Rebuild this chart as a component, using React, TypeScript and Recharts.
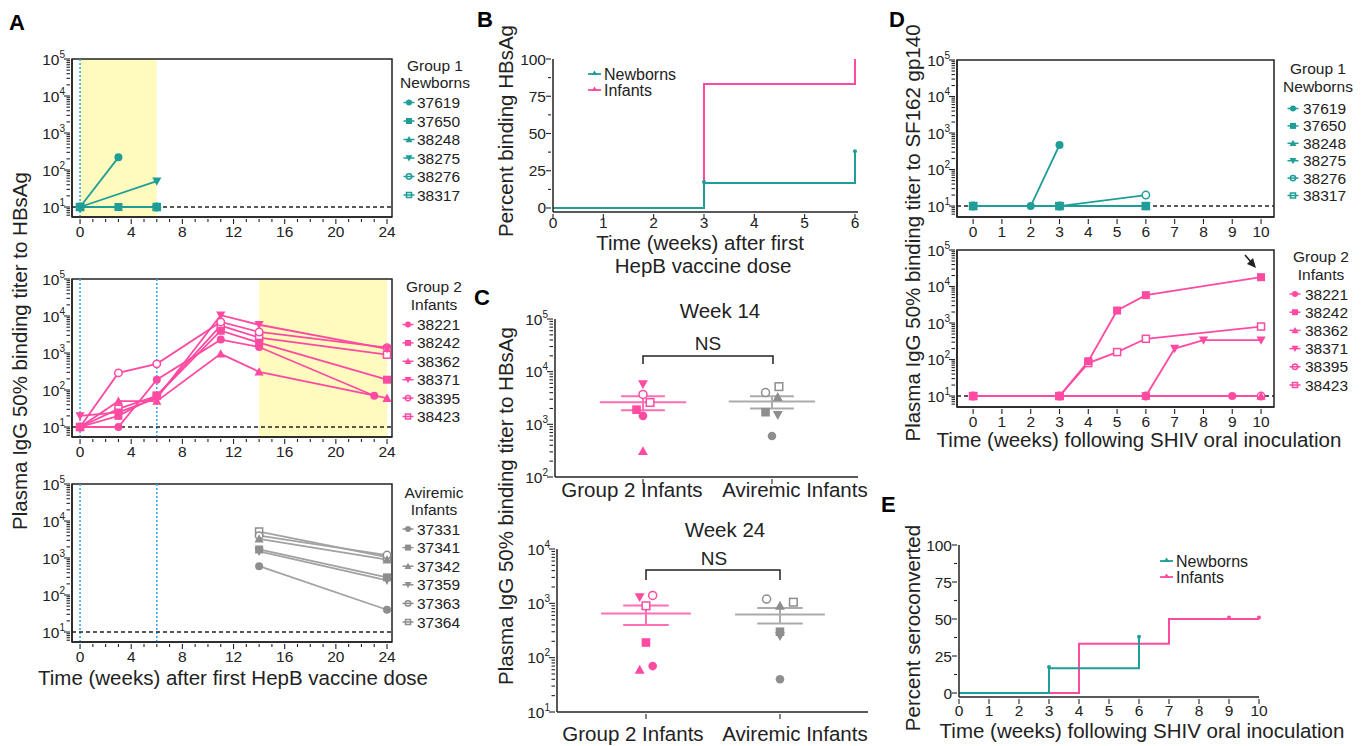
import React from 'react';
import {
  ComposedChart,
  Line,
  Scatter,
  XAxis,
  YAxis,
  ReferenceLine,
  ReferenceArea,
} from 'recharts';

const FONT = '"Liberation Sans", Arial, Helvetica, sans-serif';
const INK = '#222';
const TEAL = '#1F9E98';
const PINK = '#FF4AA2';
const GRAY = '#8E8E8E';
const GRAY_LINE = '#A2A2A2';
const BLUE = '#3BA7F5';
const YELLOW = '#FFFBBE';

// ---------- data ----------
const NEWBORN_IDS = ['37619', '37650', '38248', '38275', '38276', '38317'];
const INFANT_IDS = ['38221', '38242', '38362', '38371', '38395', '38423'];
const AVIREMIC_IDS = ['37331', '37341', '37342', '37359', '37363', '37364'];

// A: anti-HBsAg titer, weeks after first HepB dose
const HEPB_NB_WEEKS = [[0, 3], [0, 3, 6], [0, 6], [0, 6], [0, 6], [0, 6]];
const HEPB_NB_TITER = [[10, 220], [10, 10, 10], [10, 10], [10, 50], [10, 10], [10, 10]];

const HEPB_INF_WEEKS = [
  [0, 3, 6, 11, 14, 23],
  [0, 3, 6, 11, 14, 24],
  [0, 3, 6, 11, 14, 24],
  [0, 3, 6, 11, 14, 24],
  [0, 3, 6, 11, 14, 24],
  [0, 3, 6, 11, 14, 24],
];
const HEPB_INF_TITER = [
  [10, 10, 190, 2300, 1450, 70],
  [10, 20, 70, 4000, 1900, 190],
  [10, 50, 50, 950, 310, 60],
  [20, 25, 60, 10500, 5800, 1300],
  [10, 290, 510, 6900, 3700, 1400],
  [10, 31, 70, 5500, 2600, 900],
];

const HEPB_AV_WEEKS = [[14, 24], [14, 24], [14, 24], [14, 24], [14, 24], [14, 24]];
const HEPB_AV_TITER = [[600, 40], [1700, 300], [3300, 900], [1500, 250], [4000, 1200], [5200, 1050]];

// B: percent binding HBsAg
const B_NB_WEEKS = [0, 3, 6];
const B_NB_PCT = [0, 16.7, 38];
const B_INF_WEEKS = [0, 3, 6];
const B_INF_PCT = [0, 83.3, 100];
const B_NB_CENSOR_WEEKS = [3, 6];
const B_NB_CENSOR_PCT = [17.5, 38];

// C: titers at week 14 / week 24
const WK14_G2 = [1450, 1900, 310, 5800, 3700, 2600];
const WK14_AV = [600, 1700, 3300, 1500, 4000, 5200];
const WK24_G2 = [70, 190, 60, 1300, 1400, 900];
const WK24_AV = [40, 300, 900, 250, 1200, 1050];
const C_GROUPS = ['Group 2 Infants', 'Aviremic Infants'];

// D: anti-SF162 gp140 titer, weeks after SHIV inoculation
const SHIV_NB_WEEKS = [[0, 2, 3], [0, 3, 6], [0, 3, 6], [0, 3, 6], [0, 3, 6], [0, 3, 6]];
const SHIV_NB_TITER = [[10, 10, 470], [10, 10, 10], [10, 10, 10], [10, 10, 10], [10, 10, 20], [10, 10, 10]];
const SHIV_INF_WEEKS = [
  [0, 3, 6, 9],
  [0, 3, 4, 5, 6, 10],
  [0, 3, 6, 10],
  [0, 3, 6, 7, 8, 10],
  [0, 3, 6, 10],
  [0, 3, 4, 5, 6, 10],
];
const SHIV_INF_TITER = [
  [10, 10, 10, 10],
  [10, 10, 90, 2200, 5800, 18000],
  [10, 10, 10, 10],
  [10, 10, 10, 200, 340, 340],
  [10, 10, 10, 10],
  [10, 10, 80, 160, 370, 800],
];

// E: percent seroconverted
const E_NB_WEEKS = [0, 3, 6];
const E_NB_PCT = [0, 16.7, 38];
const E_INF_WEEKS = [0, 4, 7, 10];
const E_INF_PCT = [0, 33.3, 50, 50];
const E_NB_CENSOR_WEEKS = [3, 6];
const E_NB_CENSOR_PCT = [17.5, 38];
const E_INF_CENSOR_WEEKS = [9, 10];
const E_INF_CENSOR_PCT = [51, 51];

// ---------- styles ----------
const SHAPES = ['circle', 'square', 'triUp', 'triDown', 'openCircle', 'openSquare'];
const DRAW_ORDER = [5, 4, 3, 2, 0, 1];
const C14_JITTER = [[0, -0.05, 0, 0, 0, 0.055], [0, -0.05, 0.045, 0.045, -0.05, 0.054]];
const C24_JITTER = [[0.05, 0, -0.047, -0.047, 0.05, 0], [0, 0, 0, 0, -0.1, 0.1]];

const AX = { stroke: INK, strokeWidth: 1.5 };
const PL = 72;
const PR = 30;
const PT = 10;
const PB = 44;

type Box = [number, number, number, number];

const zip = (xs: number[], ys: number[]) => xs.map((x, i) => ({ x, y: ys[i] }));

const logTicks = (min: number, maxExp: number) => {
  const t: number[] = [];
  for (let e = 0; e < maxExp; e++)
    for (let m = 1; m < 10; m++) {
      const v = m * Math.pow(10, e);
      if (v >= min) t.push(v);
    }
  t.push(Math.pow(10, maxExp));
  return t;
};

const range = (a: number, b: number, step = 1) => {
  const r: number[] = [];
  for (let v = a; v <= b + 1e-9; v += step) r.push(v);
  return r;
};

function Marker({ cx, cy, shape, color, r = 4, legend = false }: any) {
  if (cx == null || cy == null || isNaN(cx) || isNaN(cy)) return null;
  const t = r * 1.15;
  switch (shape) {
    case 'circle':
      return <circle cx={cx} cy={cy} r={r} fill={color} />;
    case 'square':
      return <rect x={cx - r} y={cy - r} width={2 * r} height={2 * r} fill={color} />;
    case 'triUp':
      return <polygon points={`${cx},${cy - t} ${cx - t},${cy + t * 0.8} ${cx + t},${cy + t * 0.8}`} fill={color} />;
    case 'triDown':
      return <polygon points={`${cx},${cy + t} ${cx - t},${cy - t * 0.8} ${cx + t},${cy - t * 0.8}`} fill={color} />;
    case 'openCircle':
      return <circle cx={cx} cy={cy} r={r - 0.3} fill={legend ? 'none' : '#fff'} stroke={color} strokeWidth={1.5} />;
    default:
      return (
        <rect x={cx - r + 0.5} y={cy - r + 0.5} width={2 * r - 1} height={2 * r - 1}
          fill={legend ? 'none' : '#fff'} stroke={color} strokeWidth={1.5} />
      );
  }
}

const LogYTick = (props: any) => {
  const { x, y, payload } = props;
  const lg = Math.log10(payload.value);
  const e = Math.round(lg);
  const major = Math.abs(lg - e) < 1e-6;
  return (
    <g>
      <line x1={x - (major ? 6 : 3.5)} x2={x} y1={y} y2={y} stroke={INK} strokeWidth={1.1} />
      {major && (
        <text x={x - 5} y={y + 5.5} textAnchor="end" fontSize={15.5} fill={INK} fontFamily={FONT}>
          10<tspan dy={-7} fontSize={10}>{e}</tspan>
        </text>
      )}
    </g>
  );
};

const linYTick = (every: number) => (props: any) => {
  const { x, y, payload } = props;
  const v = payload.value;
  const major = Math.abs(v / every - Math.round(v / every)) < 1e-6;
  return (
    <g>
      <line x1={x - (major ? 5 : 3)} x2={x} y1={y} y2={y} stroke={INK} strokeWidth={1.1} />
      {major && (
        <text x={x - 5} y={y + 5.5} textAnchor="end" fontSize={15.5} fill={INK} fontFamily={FONT}>
          {v}
        </text>
      )}
    </g>
  );
};

const numXTick = (every: number, dy: number) => (props: any) => {
  const { x, y, payload } = props;
  const v = payload.value;
  const major = Math.abs(v / every - Math.round(v / every)) < 1e-6;
  return (
    <g>
      <line x1={x} x2={x} y1={y} y2={y + (major ? 5 : 3)} stroke={INK} strokeWidth={1.1} />
      {major && (
        <text x={x} y={y + dy} textAnchor="middle" fontSize={15.5} fill={INK} fontFamily={FONT}>
          {v}
        </text>
      )}
    </g>
  );
};

const catXTick = (dxs: number[], dy: number) => (props: any) => {
  const { x, y, payload } = props;
  const i = payload.value < 1.5 ? 0 : 1;
  return (
    <g>
      <line x1={x} x2={x} y1={y} y2={y + 5} stroke={INK} strokeWidth={1.1} />
      <text x={x + dxs[i]} y={y + dy} textAnchor="middle" fontSize={20.5} fill={INK} fontFamily={FONT}>
        {C_GROUPS[i]}
      </text>
    </g>
  );
};

function Frame({ box, children }: { box: Box; children: React.ReactNode }) {
  const [x0, y0, x1, y1] = box;
  return (
    <div style={{ position: 'absolute', left: x0 - PL, top: y0 - PT }}>
      <ComposedChart
        width={x1 - x0 + PL + PR}
        height={y1 - y0 + PT + PB}
        margin={{ top: PT, right: PR, left: 0, bottom: 0 }}
      >
        {children}
      </ComposedChart>
    </div>
  );
}

function TiterPanel({ box, xDomain, xTicks, xEvery, yMin, weeks, titers, ids, color, lineColor, shaded, blueX }: any) {
  return (
    <Frame box={box}>
      <XAxis type="number" dataKey="x" domain={xDomain} ticks={xTicks} interval={0} allowDataOverflow
        tick={numXTick(xEvery, 18)} tickLine={false} tickSize={0} axisLine={AX} height={PB} />
      <YAxis type="number" dataKey="y" scale="log" domain={[yMin, 1e5]} ticks={logTicks(yMin, 5)} interval={0}
        allowDataOverflow tick={LogYTick} tickLine={false} tickSize={0} axisLine={AX} width={PL} />
      {shaded && (
        <ReferenceArea x1={shaded[0]} x2={shaded[1]} y1={yMin} y2={1e5} fill={YELLOW} fillOpacity={1}
          stroke="none" ifOverflow="visible" />
      )}
      {(blueX || []).map((bx: number) => (
        <ReferenceLine key={'b' + bx} x={bx} stroke={BLUE} strokeDasharray="2 2" strokeWidth={1.6} />
      ))}
      <ReferenceLine y={10} stroke={INK} strokeDasharray="4 3" strokeWidth={1.5} />
      {DRAW_ORDER.map((i) => (
        <Line
          key={ids[i]}
          data={zip(weeks[i], titers[i])}
          dataKey="y"
          type="linear"
          stroke={lineColor}
          strokeWidth={1.8}
          isAnimationActive={false}
          activeDot={false}
          legendType="none"
          dot={(p: any) => <Marker key={`${ids[i]}-${p.index}`} cx={p.cx} cy={p.cy} shape={SHAPES[i]} color={color} />}
        />
      ))}
      <ReferenceArea x1={xDomain[0]} x2={xDomain[1]} y1={yMin} y2={1e5} fill="none" fillOpacity={0}
        stroke={INK} strokeWidth={1.5} ifOverflow="visible" />
    </Frame>
  );
}

function StepPanel({ box, xDomain, xTicks, series, tickDy }: any) {
  return (
    <Frame box={box}>
      <XAxis type="number" dataKey="x" domain={xDomain} ticks={xTicks} interval={0}
        tick={numXTick(1, tickDy)} tickLine={false} tickSize={0} axisLine={AX} height={PB} />
      <YAxis type="number" dataKey="y" domain={[-2.7, 100]} ticks={range(0, 100, 12.5)} interval={0}
        tick={linYTick(25)} tickLine={false} tickSize={0} axisLine={AX} width={PL} />
      {series.map((s: any) => (
        <Line key={s.name} data={zip(s.weeks, s.pct)} dataKey="y" type="stepAfter" stroke={s.color}
          strokeWidth={2} dot={false} activeDot={false} isAnimationActive={false} legendType="none" />
      ))}
      {series.map((s: any) => (
        <Scatter key={s.name + 'c'} data={zip(s.cWeeks, s.cPct)} fill={s.color} isAnimationActive={false}
          legendType="none" shape={(p: any) => <circle cx={p.cx} cy={p.cy} r={2} fill={s.color} />} />
      ))}
    </Frame>
  );
}

const meanSem = (v: number[]) => {
  const m = v.reduce((a, b) => a + b, 0) / v.length;
  const sd = Math.sqrt(v.reduce((a, b) => a + (b - m) * (b - m), 0) / (v.length - 1));
  return [m, sd / Math.sqrt(v.length)];
};

function DotPanel({ box, xDomain, yMin, yMax, groups, dxs, dy }: any) {
  const exps = Math.round(Math.log10(yMax));
  return (
    <Frame box={box}>
      <XAxis type="number" dataKey="x" domain={xDomain} ticks={[1, 2]} interval={0} allowDataOverflow
        tick={catXTick(dxs, dy)} tickLine={false} tickSize={0} axisLine={AX} height={PB} />
      <YAxis type="number" dataKey="y" scale="log" domain={[yMin, yMax]} ticks={logTicks(yMin, exps)} interval={0}
        allowDataOverflow tick={LogYTick} tickLine={false} tickSize={0} axisLine={AX} width={PL} />
      {groups.map((g: any, gi: number) => {
        const pos = gi + 1;
        const [m, se] = meanSem(g.values);
        const st = { stroke: g.lineColor, strokeWidth: 2, ifOverflow: 'visible' as const };
        return [
          <ReferenceLine key={'m' + gi} {...st} segment={[{ x: pos - 0.335, y: m }, { x: pos + 0.335, y: m }]} />,
          <ReferenceLine key={'h' + gi} {...st} segment={[{ x: pos - 0.17, y: m + se }, { x: pos + 0.17, y: m + se }]} />,
          <ReferenceLine key={'l' + gi} {...st} segment={[{ x: pos - 0.17, y: m - se }, { x: pos + 0.17, y: m - se }]} />,
          <ReferenceLine key={'v' + gi} {...st} segment={[{ x: pos, y: m - se }, { x: pos, y: m + se }]} />,
        ];
      })}
      {groups.map((g: any, gi: number) =>
        g.values.map((v: number, i: number) => (
          <Scatter key={`s${gi}-${i}`} data={[{ x: gi + 1 + g.jitter[i], y: v }]} isAnimationActive={false}
            legendType="none" fill={g.color}
            shape={(p: any) => <Marker cx={p.cx} cy={p.cy} shape={SHAPES[i]} color={g.color} r={4.3} />} />
        ))
      )}
    </Frame>
  );
}

function IdLegend({ title, ids, color, titleX, titleY, markX, textX, y0, step }: any) {
  return (
    <g>
      {title.map((t: string, k: number) => (
        <text key={t} x={titleX} y={titleY[k]} textAnchor="middle" fontSize={15.5} fill={INK}>{t}</text>
      ))}
      {ids.map((id: string, i: number) => {
        const y = y0 + i * step;
        return (
          <g key={id}>
            <line x1={markX - 5.5} x2={markX + 5.5} y1={y} y2={y} stroke={color} strokeWidth={1.5} />
            <Marker cx={markX} cy={y} shape={SHAPES[i]} color={color} r={3} legend />
            <text x={textX} y={y + 5.5} fontSize={15.5} fill={INK}>{id}</text>
          </g>
        );
      })}
    </g>
  );
}

function StepLegend({ x, y, step }: any) {
  const items = [['Newborns', TEAL], ['Infants', PINK]];
  return (
    <g>
      {items.map(([n, c], i) => (
        <g key={n}>
          <line x1={x} x2={x + 13} y1={y + i * step} y2={y + i * step} stroke={c} strokeWidth={1.8} />
          <polygon points={`${x + 6.5},${y + i * step - 3.5} ${x + 3.5},${y + i * step + 1} ${x + 9.5},${y + i * step + 1}`} fill={c} />
          <text x={x + 16} y={y + i * step + 6} fontSize={16} fill={INK}>{n}</text>
        </g>
      ))}
    </g>
  );
}

const VLabel = ({ x, y, children }: any) => (
  <text x={x} y={y} transform={`rotate(-90 ${x} ${y})`} textAnchor="middle" dominantBaseline="central"
    fontSize={20.5} fill={INK}>
    {children}
  </text>
);

export default function App() {
  const aX = { xDomain: [-0.63, 24.39], xTicks: range(0, 24), xEvery: 4, yMin: Math.pow(10, 0.73) };
  const dX = { xDomain: [-0.56, 10.45], xTicks: range(0, 10), xEvery: 1, yMin: Math.pow(10, 0.7) };
  return (
    <div style={{ position: 'absolute', left: 0, top: 0, width: 1367, height: 746, background: '#fff', fontFamily: FONT }}>
      {/* A */}
      <TiterPanel box={[72, 59, 392, 217]} {...aX} weeks={HEPB_NB_WEEKS} titers={HEPB_NB_TITER} ids={NEWBORN_IDS}
        color={TEAL} lineColor={TEAL} shaded={[0, 6]} blueX={[0]} />
      <TiterPanel box={[72, 279, 392, 437]} {...aX} weeks={HEPB_INF_WEEKS} titers={HEPB_INF_TITER} ids={INFANT_IDS}
        color={PINK} lineColor={PINK} shaded={[14, 24]} blueX={[0, 6]} />
      <TiterPanel box={[72, 484, 392, 642]} {...aX} weeks={HEPB_AV_WEEKS} titers={HEPB_AV_TITER} ids={AVIREMIC_IDS}
        color={GRAY} lineColor={GRAY_LINE} blueX={[0, 6]} />

      {/* B */}
      <StepPanel box={[553, 59, 858, 212]} xDomain={[0, 6.06]} xTicks={range(0, 6)} tickDy={14}
        series={[
          { name: 'Infants', weeks: B_INF_WEEKS, pct: B_INF_PCT, color: PINK, cWeeks: [], cPct: [] },
          { name: 'Newborns', weeks: B_NB_WEEKS, pct: B_NB_PCT, color: TEAL, cWeeks: B_NB_CENSOR_WEEKS, cPct: B_NB_CENSOR_PCT },
        ]} />

      {/* C */}
      <DotPanel box={[555, 319, 858, 477]} xDomain={[0.318, 2.667]} yMin={100} yMax={1e5} dxs={[-11, 23]} dy={18}
        groups={[
          { values: WK14_G2, color: PINK, lineColor: '#FF6FB6', jitter: C14_JITTER[0] },
          { values: WK14_AV, color: GRAY, lineColor: '#ABABAB', jitter: C14_JITTER[1] },
        ]} />
      <DotPanel box={[557, 549, 868, 712]} xDomain={[0.336, 2.657]} yMin={10} yMax={1e4} dxs={[-13, 15]} dy={27}
        groups={[
          { values: WK24_G2, color: PINK, lineColor: '#FF6FB6', jitter: C24_JITTER[0] },
          { values: WK24_AV, color: GRAY, lineColor: '#ABABAB', jitter: C24_JITTER[1] },
        ]} />

      {/* D */}
      <TiterPanel box={[957, 60, 1274, 217]} {...dX} weeks={SHIV_NB_WEEKS} titers={SHIV_NB_TITER} ids={NEWBORN_IDS}
        color={TEAL} lineColor={TEAL} />
      <TiterPanel box={[957, 250, 1274, 407]} {...dX} weeks={SHIV_INF_WEEKS} titers={SHIV_INF_TITER} ids={INFANT_IDS}
        color={PINK} lineColor={PINK} />

      {/* E */}
      <StepPanel box={[959, 545, 1259, 697]} xDomain={[0, 10]} xTicks={range(0, 10)} tickDy={17}
        series={[
          { name: 'Infants', weeks: E_INF_WEEKS, pct: E_INF_PCT, color: PINK, cWeeks: E_INF_CENSOR_WEEKS, cPct: E_INF_CENSOR_PCT },
          { name: 'Newborns', weeks: E_NB_WEEKS, pct: E_NB_PCT, color: TEAL, cWeeks: E_NB_CENSOR_WEEKS, cPct: E_NB_CENSOR_PCT },
        ]} />

      {/* text overlay */}
      <svg width={1367} height={746} style={{ position: 'absolute', left: 0, top: 0, pointerEvents: 'none' }}
        fontFamily={FONT}>
        <g fontWeight="bold" fontSize={22} fill="#000">
          <text x={9} y={30}>A</text>
          <text x={477} y={27}>B</text>
          <text x={474} y={305}>C</text>
          <text x={889} y={27}>D</text>
          <text x={881} y={512}>E</text>
        </g>

        <VLabel x={19} y={351}>Plasma IgG 50% binding titer to HBsAg</VLabel>
        <text x={233} y={685} textAnchor="middle" fontSize={20.5} fill={INK}>Time (weeks) after first HepB vaccine dose</text>
        <IdLegend title={['Group 1', 'Newborns']} titleX={435} titleY={[71, 88]} ids={NEWBORN_IDS} color={TEAL}
          markX={409} textX={417} y0={102.5} step={18.5} />
        <IdLegend title={['Group 2', 'Infants']} titleX={434} titleY={[292, 310]} ids={INFANT_IDS} color={PINK}
          markX={408} textX={417} y0={324.5} step={18.4} />
        <IdLegend title={['Aviremic', 'Infants']} titleX={434} titleY={[498, 515]} ids={AVIREMIC_IDS} color={GRAY}
          markX={408} textX={417} y0={529} step={18.6} />

        <VLabel x={505} y={131}>Percent binding HBsAg</VLabel>
        <text x={700} y={250} textAnchor="middle" fontSize={20.5} fill={INK}>Time (weeks) after first</text>
        <text x={703} y={273} textAnchor="middle" fontSize={20.5} fill={INK}>HepB vaccine dose</text>
        <StepLegend x={588} y={74} step={16} />

        <VLabel x={505} y={506}>Plasma IgG 50% binding titer to HBsAg</VLabel>
        <text x={720} y={318} textAnchor="middle" fontSize={20.5} fill={INK}>Week 14</text>
        <text x={708} y={350} textAnchor="middle" fontSize={19} fill={INK}>NS</text>
        <path d="M643 364 V356 H773 V364" fill="none" stroke={INK} strokeWidth={1.5} />
        <text x={725} y={537} textAnchor="middle" fontSize={20.5} fill={INK}>Week 24</text>
        <text x={714} y={565} textAnchor="middle" fontSize={19} fill={INK}>NS</text>
        <path d="M646 580 V570 H780 V580" fill="none" stroke={INK} strokeWidth={1.5} />

        <VLabel x={912} y={233}>Plasma IgG 50% binding titer to SF162 gp140</VLabel>
        <text x={1139} y={447} textAnchor="middle" fontSize={20.5} fill={INK}>Time (weeks) following SHIV oral inoculation</text>
        <IdLegend title={['Group 1', 'Newborns']} titleX={1318} titleY={[74, 92]} ids={NEWBORN_IDS} color={TEAL}
          markX={1293} textX={1303} y0={108.5} step={17.4} />
        <IdLegend title={['Group 2', 'Infants']} titleX={1321} titleY={[262, 280]} ids={INFANT_IDS} color={PINK}
          markX={1295} textX={1305} y0={294} step={18.2} />
        <line x1={1245} y1={255} x2={1251} y2={262} stroke={INK} strokeWidth={1.6} />
        <polygon points="1256,268 1247,264 1253,258" fill={INK} />

        <VLabel x={912} y={628}>Percent seroconverted</VLabel>
        <text x={1142} y={738} textAnchor="middle" fontSize={20.5} fill={INK}>Time (weeks) following SHIV oral inoculation</text>
        <StepLegend x={1160} y={561} step={16} />
      </svg>
    </div>
  );
}
